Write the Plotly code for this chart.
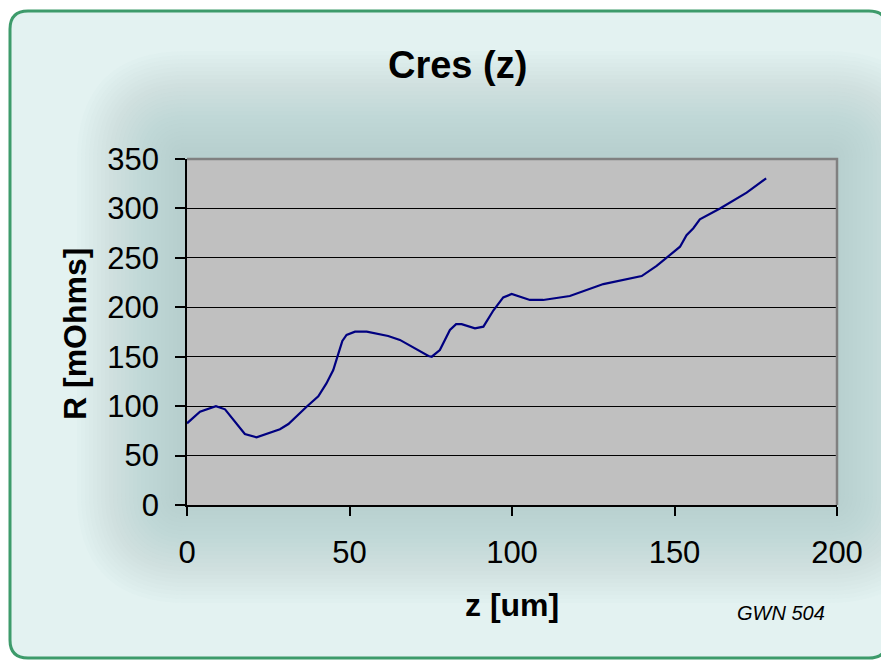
import plotly.graph_objects as go

# ---- data ----
z_um = [0, 4, 8.9, 11.7, 17.8, 21.4, 28.6, 31.2, 36.8, 40.4, 42.9, 45, 46.6, 47.8, 49.1,
        51.7, 55.3, 61.9, 65.5, 69.6, 74.3, 75.3, 77.8, 80.9, 82.8, 84.5, 88.6, 91.2,
        94.3, 97.3, 99.9, 105.5, 109.6, 117.8, 128.1, 139.9, 144.5, 151.7, 153.7,
        155.8, 157.8, 164, 172.2, 178.2]
r_mohm = [82.6, 94.4, 100, 96.8, 71.8, 68.5, 76.6, 81.9, 99.4, 110, 123, 136.6, 153.4,
          166, 172, 175.3, 175.3, 171, 167, 159.5, 150.7, 150, 156.8, 177, 183, 183,
          178.7, 180.4, 197, 210, 213.4, 207.4, 207.4, 211.4, 223.5, 231.6, 241.8,
          261.3, 273, 280, 289, 300, 316, 330.5]
x_ticks = [0, 50, 100, 150, 200]
y_ticks = [0, 50, 100, 150, 200, 250, 300, 350]
title_text = "Cres (z)"
x_title = "z [um]"
y_title = "R [mOhms]"
note_text = "GWN 504"

# page body has an 8px margin; work in screen pixels and shift
OFF = 8
W, H = 889 - OFF, 660 - OFF
SL, SR, ST, SB = 187, 837, 159, 505   # plot area in screen pixels
L, R_, T, B = SL - OFF, SR - OFF, ST - OFF, SB - OFF
pw, ph = R_ - L, B - T


def px(x):
    return (x - OFF - L) / pw


def py(y):
    return (B - (y - OFF)) / ph


def rrect(x0, y0, x1, y1, r):
    pts = [
        f"M{px(x0 + r)},{py(y0)}",
        f"L{px(x1 - r)},{py(y0)}",
        f"Q{px(x1)},{py(y0)} {px(x1)},{py(y0 + r)}",
        f"L{px(x1)},{py(y1 - r)}",
        f"Q{px(x1)},{py(y1)} {px(x1 - r)},{py(y1)}",
        f"L{px(x0 + r)},{py(y1)}",
        f"Q{px(x0)},{py(y1)} {px(x0)},{py(y1 - r)}",
        f"L{px(x0)},{py(y0 + r)}",
        f"Q{px(x0)},{py(y0)} {px(x0 + r)},{py(y0)}",
        "Z",
    ]
    return " ".join(pts)


shapes = []
# frame background
shapes.append(dict(type="path", xref="paper", yref="paper", layer="below",
                   path=rrect(10, 11, 887, 658, 18),
                   fillcolor="#e3f2f1", line=dict(color="#3d9b6b", width=3)))
# soft glow around plot area
n = 26
for k in range(n, 0, -1):
    e = 4 * k
    shapes.append(dict(type="path", xref="paper", yref="paper", layer="below",
                       path=rrect(SL - e - 6, ST - e - 4, SR + e - 4, SB + e - 6, e + 6),
                       fillcolor="#98c0bf", opacity=0.03, line=dict(width=0)))
# plot area fill
shapes.append(dict(type="rect", xref="paper", yref="paper", layer="below",
                   x0=0, y0=0, x1=1, y1=1, fillcolor="#c0c0c0", line=dict(width=0)))
# gray border top and right
shapes.append(dict(type="path", xref="paper", yref="paper", layer="above",
                   path="M0,1 L1,1 L1,0",
                   line=dict(color="#808080", width=2.5)))

fig = go.Figure()
fig.add_trace(go.Scatter(x=z_um, y=r_mohm, mode="lines",
                         line=dict(color="#000080", width=2.2), hoverinfo="skip",
                         showlegend=False))

tickfont = dict(family="Liberation Sans, Arial, sans-serif", size=31, color="black")
fig.update_xaxes(range=[0, 200], tickvals=x_ticks, ticktext=[str(v) for v in x_ticks],
                 showgrid=False, zeroline=False, showline=True, linecolor="black",
                 linewidth=1.5, ticks="outside", ticklen=9, tickcolor="black",
                 tickwidth=1.5, tickfont=tickfont, ticklabelstandoff=10)
fig.update_yaxes(range=[0, 350], tickvals=y_ticks, ticktext=[str(v) for v in y_ticks],
                 showgrid=True, gridcolor="black", gridwidth=1.2, zeroline=False,
                 showline=True, linecolor="black", linewidth=1.5, ticks="outside",
                 ticklen=10, tickcolor="black", tickwidth=1.5, tickfont=tickfont,
                 ticklabelstandoff=10)

bold = dict(family="Liberation Sans, Arial, sans-serif", color="black")
annotations = [
    dict(text=f"<b>{title_text}</b>", x=px(457), y=py(65), xref="paper", yref="paper",
         showarrow=False, xanchor="center", yanchor="middle",
         font=dict(size=38, **bold)),
    dict(text=f"<b>{y_title}</b>", x=px(75), y=py(334), xref="paper", yref="paper",
         showarrow=False, xanchor="center", yanchor="middle", textangle=-90,
         font=dict(size=32, **bold)),
    dict(text=f"<b>{x_title}</b>", x=px(512), y=py(605), xref="paper", yref="paper",
         showarrow=False, xanchor="center", yanchor="middle",
         font=dict(size=32, **bold)),
    dict(text=f"<i>{note_text}</i>", x=px(781), y=py(613), xref="paper", yref="paper",
         showarrow=False, xanchor="center", yanchor="middle",
         font=dict(size=20, **bold)),
]

fig.update_layout(width=W, height=H, autosize=False,
                  margin=dict(l=L, r=W - R_, t=T, b=H - B, pad=0),
                  paper_bgcolor="white", plot_bgcolor="rgba(0,0,0,0)",
                  shapes=shapes, annotations=annotations, showlegend=False)

fig.write_html("out.html")
